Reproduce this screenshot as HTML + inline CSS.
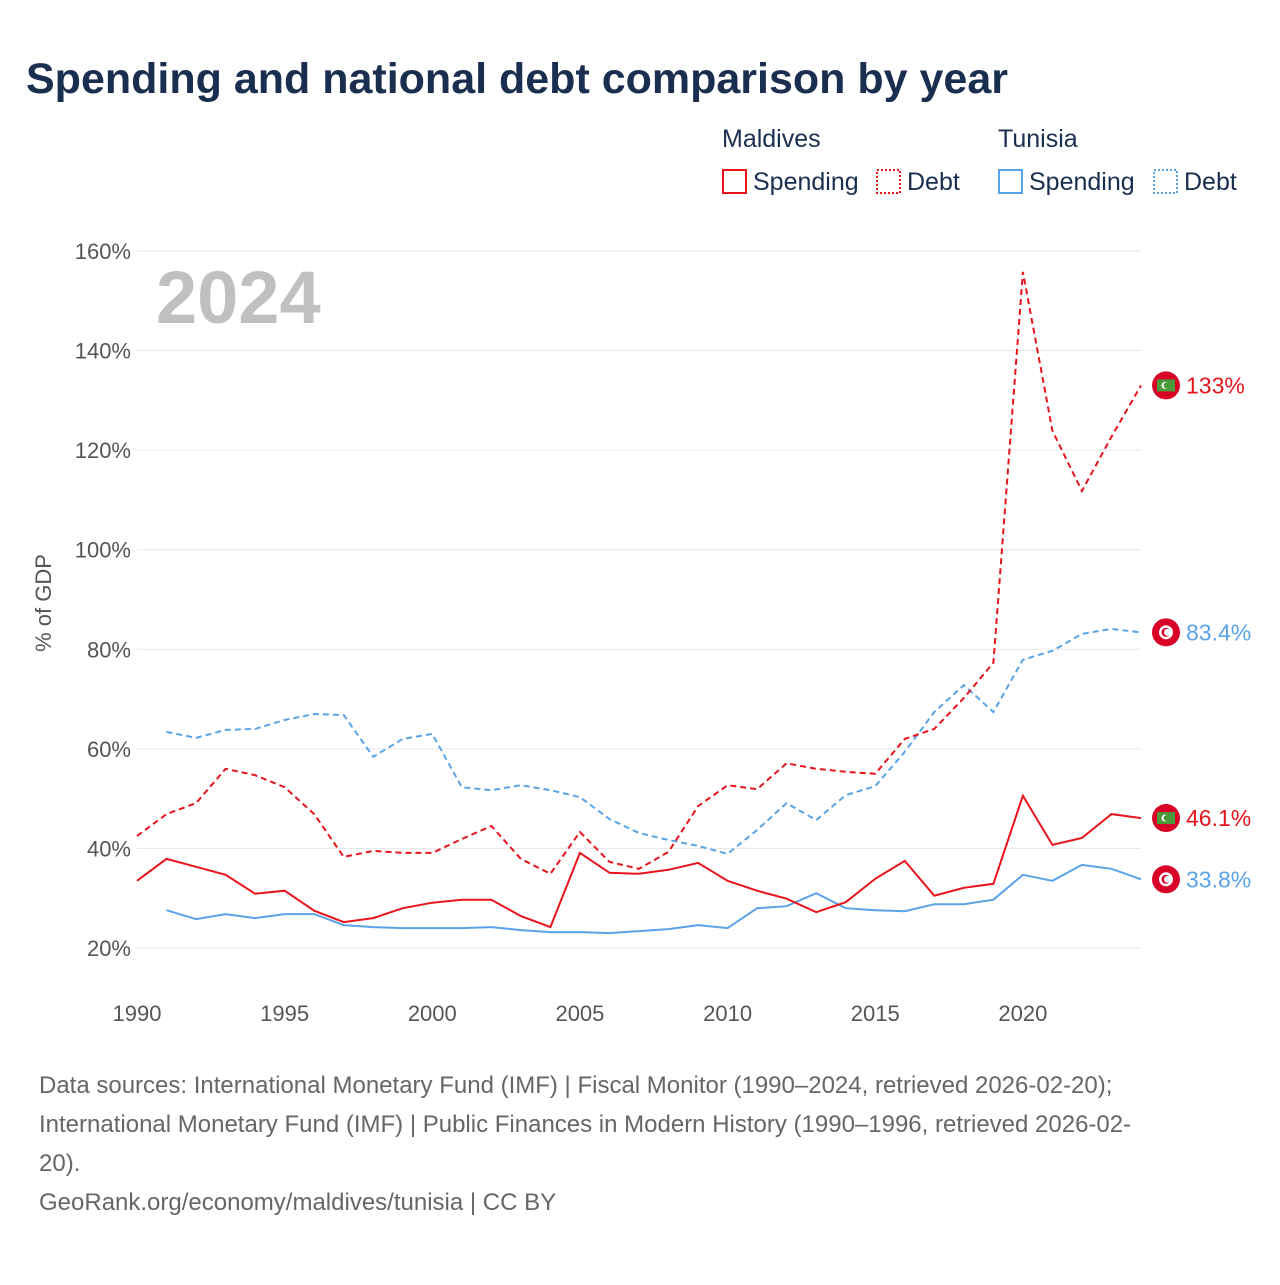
<!DOCTYPE html>
<html><head><meta charset="utf-8"><style>
body{margin:0;background:#fff;font-family:"Liberation Sans",sans-serif}
svg text{font-family:"Liberation Sans",sans-serif}
</style></head><body>
<svg id="c" width="1280" height="1280" xmlns="http://www.w3.org/2000/svg">
<text x="26" y="93" font-size="43" font-weight="bold" fill="#1a2e4f">Spending and national debt comparison by year</text>
<g>
<text x="722" y="147" font-size="25" fill="#1a2e4f">Maldives</text>
<text x="998" y="147" font-size="25" fill="#1a2e4f">Tunisia</text>
<g><rect x="723" y="170" width="23" height="23" fill="none" stroke="#e8141c" stroke-width="2"/><text x="753" y="190" font-size="25" fill="#1a2e4f">Spending</text></g>
<g><rect x="877" y="170" width="23" height="23" fill="none" stroke="#e8141c" stroke-width="2" stroke-dasharray="2,2"/><text x="907" y="190" font-size="25" fill="#1a2e4f">Debt</text></g>
<g><rect x="999" y="170" width="23" height="23" fill="none" stroke="#5aa3e8" stroke-width="2"/><text x="1029" y="190" font-size="25" fill="#1a2e4f">Spending</text></g>
<g><rect x="1154" y="170" width="23" height="23" fill="none" stroke="#5aa3e8" stroke-width="2" stroke-dasharray="2,2"/><text x="1184" y="190" font-size="25" fill="#1a2e4f">Debt</text></g>
</g>
<text x="156" y="323" font-size="74" font-weight="bold" fill="#c0c0c0">2024</text>
<text transform="translate(51,603) rotate(-90)" text-anchor="middle" font-size="22" fill="#555">% of GDP</text>
<g id="grid"></g><g id="series"></g><g id="labels"></g>
<g font-size="24" fill="#666">
<text x="39" y="1093">Data sources: International Monetary Fund (IMF) | Fiscal Monitor (1990–2024, retrieved 2026-02-20);</text>
<text x="39" y="1132">International Monetary Fund (IMF) | Public Finances in Modern History (1990–1996, retrieved 2026-02-</text>
<text x="39" y="1171">20).</text>
<text x="39" y="1210">GeoRank.org/economy/maldives/tunisia | CC BY</text>
</g>
</svg>
<script>
const years=[];for(let y=1990;y<=2024;y++)years.push(y);
const yTicks=[20,40,60,80,100,120,140,160];
const xTicks=[1990,1995,2000,2005,2010,2015,2020];
const mvSpending=[33.5,37.9,36.3,34.7,30.9,31.5,27.5,25.2,26.0,28.0,29.1,29.7,29.7,26.4,24.2,39.1,35.1,34.9,35.7,37.1,33.5,31.5,29.9,27.2,29.2,33.9,37.5,30.5,32.1,32.9,50.6,40.7,42.1,46.9,46.1];
const mvDebt=[42.5,46.9,49.1,56.0,54.7,52.3,46.9,38.3,39.5,39.1,39.1,41.9,44.5,37.9,34.9,43.3,37.3,35.9,39.3,48.5,52.7,51.9,57.1,56.0,55.4,55.0,62.0,64.0,70.2,77.3,155.8,123.9,111.8,122.7,133];
const tnSpending=[null,27.6,25.8,26.8,26.0,26.8,26.8,24.6,24.2,24.0,24.0,24.0,24.2,23.6,23.2,23.2,23.0,23.4,23.8,24.6,24.0,28.0,28.4,31.0,28.0,27.6,27.4,28.8,28.8,29.7,34.7,33.5,36.7,35.9,33.8];
const tnDebt=[null,63.4,62.2,63.8,64.0,65.8,67.0,66.8,58.4,62.0,63.0,52.3,51.7,52.7,51.7,50.3,45.9,43.1,41.7,40.5,38.9,43.7,49.1,45.7,50.7,52.5,59.4,67.4,72.8,67.4,77.9,79.7,83.1,84.1,83.4];
const endLabels=["133%","83.4%","46.1%","33.8%"];
const X=y=>137+(y-1990)*(1141-137)/34;
const Y=v=>948-(v-20)*(948-251)/140;
const NS="http://www.w3.org/2000/svg";
function mk(t,a,p){const e=document.createElementNS(NS,t);for(const k in a)e.setAttribute(k,a[k]);p.appendChild(e);return e;}
const g=document.getElementById('grid');
yTicks.forEach(v=>{
 const l=mk('line',{x1:137,x2:1141,y1:Y(v),y2:Y(v),stroke:'#e6e6e6','stroke-width':1},g);
 
 
 const t=mk('text',{x:131,y:Y(v)+8,'text-anchor':'end','font-size':22,fill:'#555'},g);t.textContent=v+'%';
 
 
});
xTicks.forEach(v=>{
 const t=mk('text',{x:X(v),y:1021,'text-anchor':'middle','font-size':22,fill:'#555'},g);t.textContent=v;
 
 
});
const s=document.getElementById('series');
const defs=[[tnSpending,'#5aa3e8',null,'tunisia-spending-line'],[tnDebt,'#5aa3e8','6,4','tunisia-debt-line'],[mvSpending,'#e8141c',null,'maldives-spending-line'],[mvDebt,'#e8141c','6,4','maldives-debt-line']];
defs.forEach(([d,c,da,n])=>{
 let p='';d.forEach((v,i)=>{if(v==null)return;p+=(p?'L':'M')+X(years[i]).toFixed(1)+','+Y(v).toFixed(1);});
 const a={d:p,fill:'none',stroke:c,'stroke-width':2};if(da)a['stroke-dasharray']=da;
 const e=mk('path',a,s);
 
 
});
const lb=document.getElementById('labels');
const ends=[[mvDebt,'#e8141c','mv'],[tnDebt,'#5aa3e8','tn'],[mvSpending,'#e8141c','mv'],[tnSpending,'#5aa3e8','tn']];
ends.forEach(([d,c,f],i)=>{
 const y=Y(d[d.length-1]);
 const gg=mk('g',{},lb);
 
 
 mk('circle',{cx:1166,cy:y,r:14,fill:'#d80027'},gg);
 if(f=='mv'){mk('rect',{x:1157,y:y-6,width:18,height:12,fill:'#4a9a3a'},gg);mk('circle',{cx:1165,cy:y,r:3.5,fill:'#fff'},gg);mk('circle',{cx:1166.5,cy:y,r:3,fill:'#4a9a3a'},gg);}
 else{mk('circle',{cx:1166,cy:y,r:7,fill:'#fff'},gg);mk('circle',{cx:1166,cy:y,r:4.5,fill:'#d80027'},gg);mk('circle',{cx:1167.5,cy:y,r:3.5,fill:'#fff'},gg);}
 const t=mk('text',{x:1186,y:y+8,'font-size':23,fill:c},gg);t.textContent=endLabels[i];
});
</script>
</body></html>
